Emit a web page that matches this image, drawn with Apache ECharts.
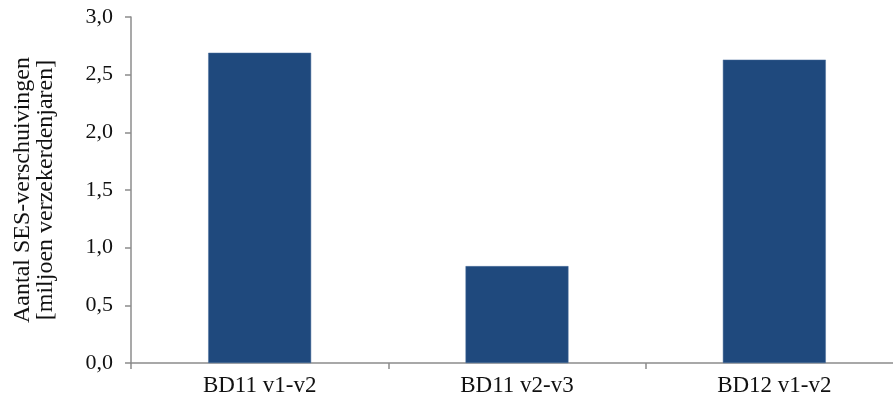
<!DOCTYPE html>
<html>
<head>
<meta charset="utf-8">
<script src="https://cdn.jsdelivr.net/npm/echarts@6/dist/echarts.min.js"></script>
<style>html,body{margin:0;padding:0;background:#fff}#c{width:893px;height:405px}</style>
</head>
<body>
<div id="c"></div>
<script>
const categories = ['BD11 v1-v2', 'BD11 v2-v3', 'BD12 v1-v2'];
const values = [2.69, 0.84, 2.63];
const yName = 'Aantal SES-verschuivingen\n[miljoen verzekerdenjaren]';
const font = '"Liberation Serif", "DejaVu Serif", serif';

const chart = echarts.init(document.getElementById('c'));
chart.setOption({
  animation: false,
  textStyle: { fontFamily: font },
  grid: { left: 131, right: -10, top: 17, bottom: 42, outerBoundsMode: 'none', containLabel: false },
  xAxis: {
    type: 'category',
    data: categories,
    axisLine: { lineStyle: { color: '#8c8c8c', width: 1.5 } },
    axisTick: { show: true, length: 6, lineStyle: { color: '#8c8c8c', width: 1.5 } },
    axisLabel: { color: '#111', fontSize: 23, fontFamily: font, margin: 11 },
    splitLine: { show: false }
  },
  yAxis: {
    type: 'value',
    min: 0, max: 3, interval: 0.5,
    name: yName,
    nameLocation: 'middle',
    nameGap: 74,
    nameTextStyle: { color: '#111', fontSize: 24, fontFamily: font, lineHeight: 23 },
    axisLine: { show: true, lineStyle: { color: '#8c8c8c', width: 1.5 } },
    axisTick: { show: true, length: 6, lineStyle: { color: '#8c8c8c', width: 1.5 } },
    axisLabel: { color: '#111', fontSize: 22, fontFamily: font, margin: 18,
      formatter: v => v.toFixed(1).replace('.', ',') },
    splitLine: { show: false }
  },
  series: [{
    type: 'bar',
    data: values,
    barWidth: '40%',
    itemStyle: { color: '#1F497D', borderColor: '#4a6f9c', borderWidth: 0.5 }
  }]
});
</script>
</body>
</html>
